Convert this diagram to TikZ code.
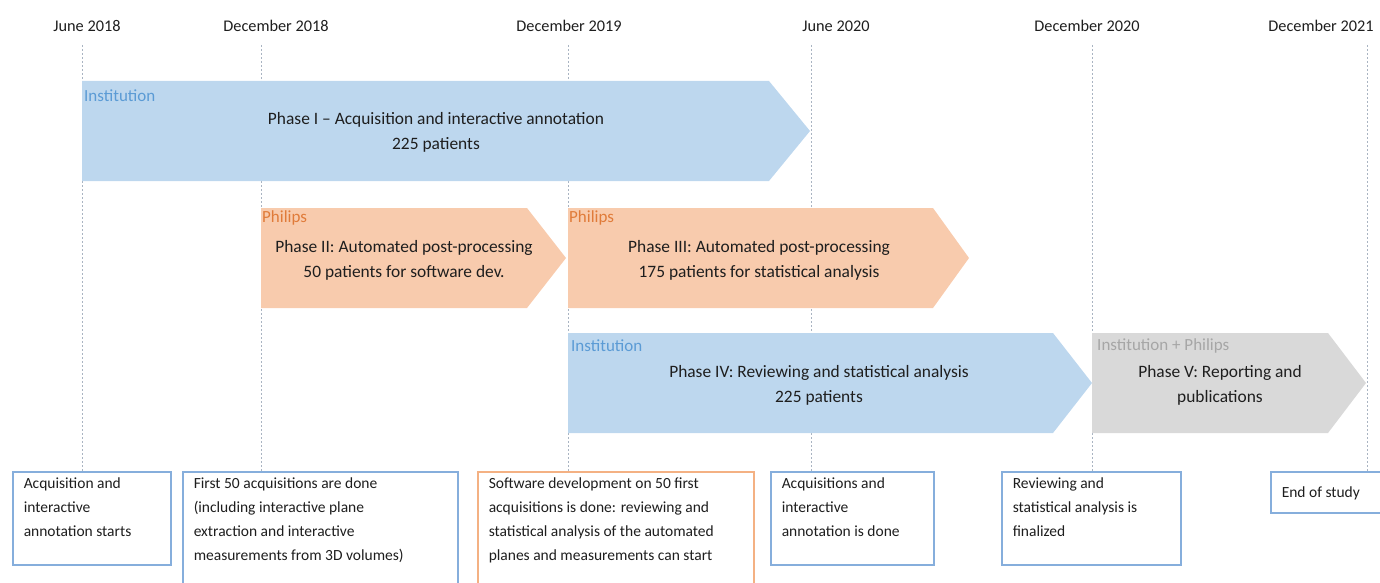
\documentclass[tikz,border=0pt]{standalone}
\usepackage{fontspec}
\setmainfont{Carlito}
\definecolor{blueFill}{HTML}{BDD7EE}
\definecolor{orangeFill}{HTML}{F8CBAD}
\definecolor{grayFill}{HTML}{D9D9D9}
\definecolor{instText}{HTML}{5B9BD5}
\definecolor{philText}{HTML}{E07B39}
\definecolor{grayText}{HTML}{A6A6A6}
\definecolor{blueLine}{HTML}{86AEDC}
\definecolor{orangeLine}{HTML}{F4B183}
\definecolor{guideCol}{HTML}{A9B4C2}
\definecolor{textCol}{HTML}{1E1E1E}
\newcommand{\boxtext}[4]{\parbox[t][#2pt][t]{#1pt}{\raggedright\rule{0pt}{#3pt}#4}}
\begin{document}
\begin{tikzpicture}[x=1pt,y=-1pt,
  date/.style={font=\fontsize{16.3}{19}\selectfont, inner sep=0pt, text=textCol},
  phasetext/.style={font=\fontsize{17.4}{25}\selectfont, align=center, inner sep=0pt, text=textCol},
  owner/.style={font=\fontsize{17}{20}\selectfont, inner sep=0pt, anchor=west},
  milestone/.style={draw, line width=1.5pt, fill=white, anchor=north west, inner xsep=11pt, inner ysep=0pt, font=\fontsize{15.5}{24}\selectfont, text=textCol},
  guide/.style={draw=guideCol, line width=1pt, dash pattern=on 2pt off 2pt},
  bluearrow/.style={fill=blueFill},
  orangearrow/.style={fill=orangeFill},
  grayarrow/.style={fill=grayFill}]
\useasboundingbox (0,0) rectangle (1380,583);
\clip (0,0) rectangle (1380,583);

% milestone boxes
\node[milestone, draw=blueLine] (b1) at (12,471) {\boxtext{136}{93}{17}{Acquisition and\\interactive\\annotation starts}};
\node[milestone, draw=blueLine] (b2) at (182,471) {\boxtext{253}{130}{17}{First 50 acquisitions are done\\(including interactive plane\\extraction and interactive\\measurements from 3D volumes)}};
\node[milestone, draw=orangeLine] (b3) at (477,471) {\boxtext{254}{130}{17}{Software development on 50 first\\acquisitions is done: reviewing and\\statistical analysis of the automated\\planes and measurements can start}};
\node[milestone, draw=blueLine] (b4) at (770,471) {\boxtext{141}{93}{17}{Acquisitions and\\interactive\\annotation is done}};
\node[milestone, draw=blueLine] (b5) at (1001,471) {\boxtext{157}{93}{17}{Reviewing and\\statistical analysis is\\finalized}};
\node[milestone, draw=blueLine] (b6) at (1270,471) {\boxtext{100}{41}{26}{End of study}};

% date labels
\node[date] (d1) at (87,26) {June 2018};
\node[date] (d2) at (276,26) {December 2018};
\node[date] (d3) at (569,26) {December 2019};
\node[date] (d4) at (836,26) {June 2020};
\node[date] (d5) at (1087,26) {December 2020};
\node[date] (d6) at (1321,26) {December 2021};

% guide lines
\coordinate (g1) at (82,45);
\coordinate (g2) at (261,45);
\coordinate (g3) at (568,45);
\coordinate (g4) at (811,45);
\coordinate (g5) at (1092,45);
\coordinate (g6) at (1367,45);
\draw[guide] (g1) -- (g1 |- b1.north);
\draw[guide] (g2) -- (g2 |- b2.north);
\draw[guide] (g3) -- (g3 |- b3.north);
\draw[guide] (g4) -- (g4 |- b4.north);
\draw[guide] (g5) -- (g5 |- b5.north);
\draw[guide] (g6) -- (g6 |- b6.north);

% phase arrows
\fill[bluearrow] (82,81) -- (769,81) -- (810,131) -- (769,181) -- (82,181) -- cycle;
\fill[orangearrow] (261,208) -- (527,208) -- (566,258) -- (527,308) -- (261,308) -- cycle;
\fill[orangearrow] (568,208) -- (933,208) -- (969,258) -- (933,308) -- (568,308) -- cycle;
\fill[bluearrow] (568,333) -- (1053,333) -- (1092,383) -- (1053,433) -- (568,433) -- cycle;
\fill[grayarrow] (1092,333) -- (1328,333) -- (1366,383) -- (1328,433) -- (1092,433) -- cycle;

% owners
\node[owner, text=instText] (o1) at (84,96) {Institution};
\node[owner, text=philText] (o2) at (262,218) {Philips};
\node[owner, text=philText] (o3) at (569,218) {Philips};
\node[owner, text=instText] (o4) at (571,346) {Institution};
\node[owner, text=grayText] (o5) at (1097,346) {Institution + Philips};

% phase texts
\node[phasetext] (p1) at (436,132) {Phase I -- Acquisition and interactive annotation\\225 patients};
\node[phasetext] (p2) at (404,260) {Phase II: Automated post-processing\\50 patients for software dev.};
\node[phasetext] (p3) at (759,260) {Phase III: Automated post-processing\\175 patients for statistical analysis};
\node[phasetext] (p4) at (819,385) {Phase IV: Reviewing and statistical analysis\\225 patients};
\node[phasetext] (p5) at (1220,385) {Phase V: Reporting and\\publications};
\end{tikzpicture}
\end{document}
